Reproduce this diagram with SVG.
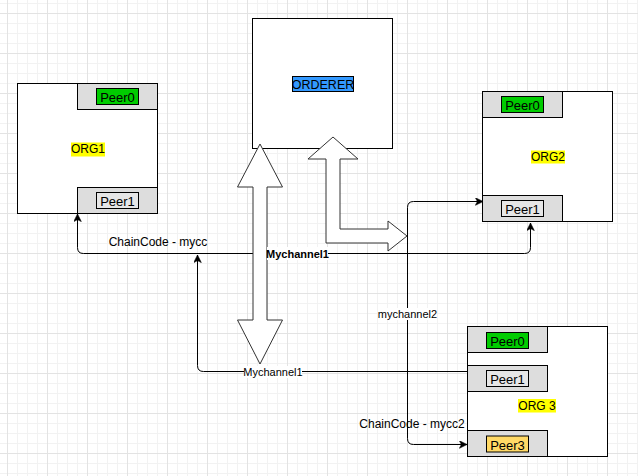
<svg xmlns="http://www.w3.org/2000/svg" width="638" height="476" viewBox="0 0 638 476">
<style>
.box{fill:#ffffff;stroke:#000000;stroke-width:1}
.peer{fill:#dddddd;stroke:#000000;stroke-width:1}
.lbl{stroke:#000000;stroke-width:1}
.t{font-family:"Liberation Sans",Arial,sans-serif;fill:#000000;text-anchor:middle}
.edge{fill:none;stroke:#000000;stroke-width:1}
.big{fill:#ffffff;stroke:#333333;stroke-width:1;stroke-linejoin:miter}
</style>
<defs>
<pattern id="minor" width="10" height="10" patternUnits="userSpaceOnUse" patternTransform="translate(7,3)">
<path d="M0.5 0V10M0 0.5H10" fill="none" stroke="#f2f2f2" stroke-width="1"/>
</pattern>
<pattern id="major" width="40" height="40" patternUnits="userSpaceOnUse" patternTransform="translate(7,13)">
<path d="M0.5 0V40M0 0.5H40" fill="none" stroke="#e3e3e3" stroke-width="1"/>
</pattern>
<marker id="arr" viewBox="-8 -4 8.5 8" refX="0" refY="0" markerWidth="8.5" markerHeight="8" markerUnits="userSpaceOnUse" orient="auto-start-reverse">
<path d="M0 0L-7.6 3.8L-5.6 0L-7.6 -3.8Z" fill="#000000" stroke="#000000" stroke-width="0.6"/>
</marker>
</defs>
<rect width="638" height="476" fill="#ffffff"/>
<rect width="638" height="476" fill="url(#minor)"/>
<rect width="638" height="476" fill="url(#major)"/>

<g id="org1">
<rect class="box" x="17.5" y="83.5" width="140" height="130"/>
<rect x="71" y="142.5" width="34" height="14" fill="#ffff00"/>
<text class="t" x="88" y="153" font-size="12">ORG1</text>
</g>
<g id="org1-peer0">
<rect class="peer" x="77.5" y="83.5" width="80" height="26"/>
<rect class="lbl" x="96.5" y="88.5" width="42" height="16" fill="#00cc00"/>
<text class="t" x="117.5" y="102" font-size="13">Peer0</text>
</g>
<g id="org1-peer1">
<rect class="peer" x="77.5" y="187.5" width="80" height="26"/>
<rect class="lbl" x="96.5" y="192.5" width="42" height="16" fill="#e6e6e6"/>
<text class="t" x="117.5" y="206" font-size="13">Peer1</text>
</g>

<g id="orderer">
<rect class="box" x="252.5" y="18.5" width="140" height="130"/>
<rect class="lbl" x="292.5" y="76.5" width="61" height="15" fill="#3399ff"/>
<text class="t" x="323" y="88.5" font-size="12.5">ORDERER</text>
</g>

<g id="org2">
<rect class="box" x="482.5" y="91.5" width="130" height="130"/>
<rect x="531" y="150.5" width="34" height="13" fill="#ffff00"/>
<text class="t" x="548" y="161" font-size="12">ORG2</text>
</g>
<g id="org2-peer0">
<rect class="peer" x="482.5" y="91.5" width="80" height="26"/>
<rect class="lbl" x="501.5" y="96.5" width="42" height="16" fill="#00cc00"/>
<text class="t" x="522.5" y="110" font-size="13">Peer0</text>
</g>
<g id="org2-peer1">
<rect class="peer" x="482.5" y="195.5" width="80" height="26"/>
<rect class="lbl" x="501.5" y="200.5" width="42" height="16" fill="#e6e6e6"/>
<text class="t" x="522.5" y="214" font-size="13">Peer1</text>
</g>

<g id="org3">
<rect class="box" x="467.5" y="326.5" width="140" height="130"/>
<rect x="518" y="399" width="38" height="13.5" fill="#ffff00"/>
<text class="t" x="537" y="410" font-size="12">ORG 3</text>
</g>
<g id="org3-peer0">
<rect class="peer" x="467.5" y="326.5" width="80" height="26"/>
<rect class="lbl" x="486.5" y="332.5" width="42" height="16" fill="#00cc00"/>
<text class="t" x="507.5" y="346" font-size="13">Peer0</text>
</g>
<g id="org3-peer1">
<rect class="peer" x="467.5" y="365.5" width="80" height="26"/>
<rect class="lbl" x="486.5" y="370.5" width="42" height="16" fill="#e6e6e6"/>
<text class="t" x="507.5" y="384" font-size="13">Peer1</text>
</g>
<g id="org3-peer3">
<rect class="peer" x="467.5" y="430.5" width="80" height="26"/>
<rect class="lbl" x="486.5" y="436" width="42" height="16" fill="#ffd966"/>
<text class="t" x="507.5" y="449.5" font-size="13">Peer3</text>
</g>

<g id="connectors">
<path class="edge" d="M77.5 214V247.5Q77.5 253.5 83.5 253.5H524.5Q530.5 253.5 530.5 247.5V223" marker-start="url(#arr)" marker-end="url(#arr)"/>
<path class="edge" d="M467.5 371.5H203.5Q197.5 371.5 197.5 365.5V255" marker-end="url(#arr)"/>
<path class="edge" d="M483 201.5H413.5Q407.5 201.5 407.5 207.5V438.5Q407.5 444.5 413.5 444.5H467" marker-start="url(#arr)" marker-end="url(#arr)"/>
</g>

<g id="big-arrows">
<polygon class="big" points="260,144 282.5,187 267,187 267,320 282.5,320 260,364 237.5,320 253,320 253,187 237.5,187"/>
<polygon class="big" points="333,137 358,159 340,159 340,229 388,229 388,221 407,236 388,251 388,243 326,243 326,159 308,159"/>
</g>

<g id="edge-labels">
<rect x="267" y="247" width="61" height="13" fill="#ffffff"/>
<text class="t" x="297.5" y="258" font-size="11" font-weight="bold">Mychannel1</text>
<rect x="244" y="366" width="58" height="12" fill="#ffffff"/>
<text class="t" x="273" y="375.5" font-size="11">Mychannel1</text>
<rect x="378" y="308" width="59" height="12" fill="#ffffff"/>
<text class="t" x="407.5" y="317.5" font-size="11">mychannel2</text>
<text class="t" x="158" y="246" font-size="12">ChainCode - mycc</text>
<text class="t" x="412" y="428" font-size="12">ChainCode - mycc2</text>
</g>
</svg>
